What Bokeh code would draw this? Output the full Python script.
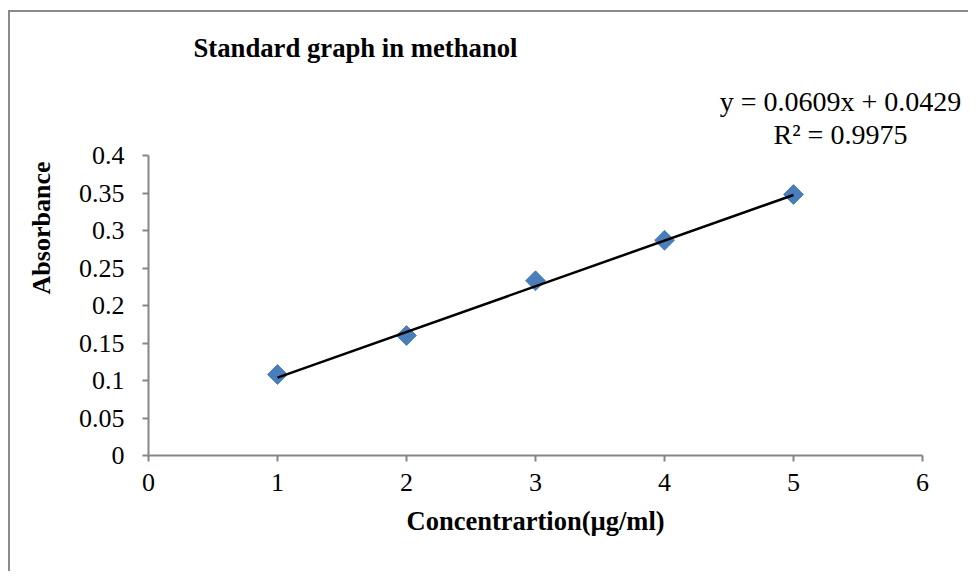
import math
from bokeh.plotting import figure
from bokeh.models import Range1d, Label, Title, FixedTicker, ColumnDataSource
from bokeh.embed import file_html
from bokeh.resources import INLINE

# ---- data ----
conc = [1, 2, 3, 4, 5]
absorbance = [0.108, 0.160, 0.233, 0.287, 0.348]
slope = 0.0609
intercept = 0.0429
r_squared = 0.9975
x_ticks = [0, 1, 2, 3, 4, 5, 6]
y_ticks = [0, 0.05, 0.1, 0.15, 0.2, 0.25, 0.3, 0.35, 0.4]
y_tick_labels = ["0", "0.05", "0.1", "0.15", "0.2", "0.25", "0.3", "0.35", "0.4"]
title_text = "Standard graph in methanol"
x_label = "Concentrartion(µg/ml)"
y_label = "Absorbance"

FONT = "Liberation Serif"
AXIS_COLOR = "#868686"
BORDER_COLOR = "#8a8a8a"
MARKER_COLOR = "#4A7EBB"

# frame spans the whole upper/right area; the axes are bounded to the data span
p = figure(width=968, height=571, output_backend="svg", toolbar_location=None,
           x_range=Range1d(0, 820 / 129), y_range=Range1d(0, 455 / 750),
           min_border_left=148, min_border_right=0,
           min_border_top=0, min_border_bottom=116)
p.styles = {
    "background": (
        f"linear-gradient({BORDER_COLOR},{BORDER_COLOR}) 8px 10px / 2px 100% no-repeat, "
        f"linear-gradient({BORDER_COLOR},{BORDER_COLOR}) 8px 10px / 100% 2px no-repeat, "
        "white"
    )
}
p.outline_line_color = None
p.background_fill_color = None
p.border_fill_color = None
p.xgrid.visible = False
p.ygrid.visible = False

for ax in (p.xaxis[0], p.yaxis[0]):
    ax.axis_line_color = AXIS_COLOR
    ax.axis_line_width = 2
    ax.major_tick_line_color = AXIS_COLOR
    ax.major_tick_line_width = 2
    ax.major_tick_in = 0
    ax.major_tick_out = 6
    ax.minor_tick_line_color = None
    ax.major_label_text_font = FONT
    ax.major_label_text_font_size = "26px"
    ax.major_label_text_color = "black"
    ax.axis_label_text_font = FONT
    ax.axis_label_text_font_size = "26px"
    ax.axis_label_text_font_style = "bold"
    ax.axis_label_text_color = "black"

p.xaxis.bounds = (x_ticks[0], x_ticks[-1])
p.yaxis.bounds = (y_ticks[0], y_ticks[-1])
p.xaxis.ticker = FixedTicker(ticks=x_ticks)
p.yaxis.ticker = FixedTicker(ticks=y_ticks)
p.yaxis.major_label_overrides = {t: l for t, l in zip(y_ticks, y_tick_labels)}
p.xaxis.major_label_standoff = 12
p.yaxis.major_label_standoff = 18
p.yaxis.axis_label = y_label
p.yaxis.axis_label_standoff = 20

# x-axis title, placed under the bounded axis (not the wider frame)
p.add_layout(Title(text=x_label, align="left", offset=258, standoff=21,
                   text_font=FONT, text_font_size="26.5px", text_font_style="bold",
                   text_color="black"), "below")

src = ColumnDataSource(dict(x=conc, y=absorbance))
p.scatter("x", "y", source=src, marker="square", size=14, angle=math.pi / 4,
          fill_color=MARKER_COLOR, line_color=MARKER_COLOR)

fit_x = [min(conc), max(conc)]
fit_y = [slope * v + intercept for v in fit_x]
p.line(fit_x, fit_y, line_color="black", line_width=2.5)

p.add_layout(Label(x=0.3488, y=0.5427, text=title_text, text_font=FONT,
                   text_font_size="26.7px", text_font_style="bold", text_color="black",
                   text_baseline="middle", text_align="left"))
p.add_layout(Label(x=5.364, y=0.472, text=f"y = {slope}x + {intercept}",
                   text_font=FONT, text_font_size="28px", text_color="black",
                   text_baseline="middle", text_align="center"))
p.add_layout(Label(x=5.364, y=0.428, text=f"R² = {r_squared}",
                   text_font=FONT, text_font_size="28px", text_color="black",
                   text_baseline="middle", text_align="center"))

open("out.html", "w").write(file_html(p, INLINE))
